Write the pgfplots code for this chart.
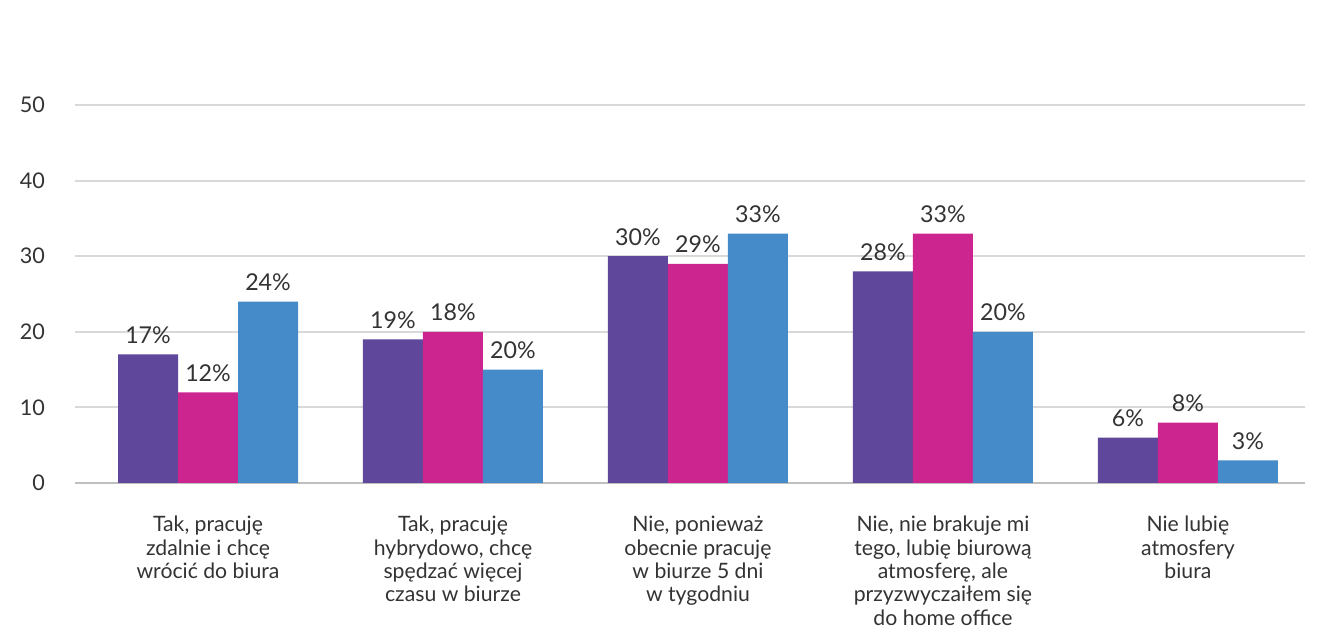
\documentclass[border=0pt]{standalone}
\usepackage{fontspec}
\setmainfont{Lato}
\usepackage{pgfplots}
\pgfplotsset{compat=1.18}
\definecolor{cPurple}{HTML}{5F479B}
\definecolor{cMagenta}{HTML}{CC2590}
\definecolor{cBlue}{HTML}{458BCA}
\definecolor{txt}{HTML}{333333}
\definecolor{gridgray}{HTML}{D9D9D9}
\definecolor{basegray}{HTML}{BFBFBF}
\begin{document}
\begin{tikzpicture}
\path[use as bounding box] (-37.5pt,-80pt) rectangle (622pt,241.5pt);
\begin{axis}[
  scale only axis,
  width=615pt, height=189pt,
  xmin=-0.543, xmax=4.478,
  ymin=0, ymax=50,
  ybar=0pt, bar width=30pt,
  ytick={0,10,...,50},
  ymajorgrids,
  grid style={draw=gridgray, line width=1pt},
  extra y ticks={0},
  extra y tick labels={},
  extra y tick style={grid style={draw=basegray, line width=1pt}},
  axis line style={draw=none},
  major tick length=0pt,
  xtick={0,1,2,3,4},
  xticklabels={
    {Tak, pracuję\\zdalnie i chcę\\wrócić do biura},
    {Tak, pracuję\\hybrydowo, chcę\\spędzać więcej\\czasu w biurze},
    {Nie, ponieważ\\obecnie pracuję\\w biurze 5 dni\\w tygodniu},
    {Nie, nie brakuje mi\\tego, lubię biurową\\atmosferę, ale\\przyzwyczaiłem się\\do home office},
    {Nie lubię\\atmosfery\\biura}},
  xticklabel style={align=center, font=\fontsize{10.6}{11.7}\selectfont, text=txt, yshift=-13pt},
  yticklabel style={font=\fontsize{10.8}{12.5}\selectfont, text=txt, xshift=-11.5pt},
  /pgf/number format/assume math mode=true,
  point meta=explicit symbolic,
  nodes near coords={\pgfplotspointmeta\%},
  every node near coord/.append style={anchor=base, yshift=5.5pt, inner sep=0pt,
    font=\fontsize{11.6}{13}\selectfont, text=txt},
]
\addplot[draw=none, fill=cPurple] coordinates {(0,17) [17] (1,19) [19] (2,30) [30] (3,28) [28] (4,6) [6]};
\addplot[draw=none, fill=cMagenta] coordinates {(0,12) [12] (1,20) [18] (2,29) [29] (3,33) [33] (4,8) [8]};
\addplot[draw=none, fill=cBlue] coordinates {(0,24) [24] (1,15) [20] (2,33) [33] (3,20) [20] (4,3) [3]};
\end{axis}
\end{tikzpicture}
\end{document}
